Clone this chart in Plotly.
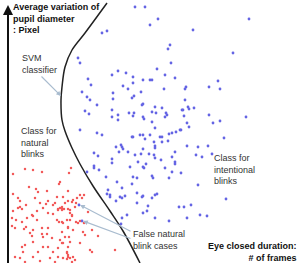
import plotly.graph_objects as go

# Canvas-style coordinates (x to the right, y downward)
blue_x = [135,145,150,102,107,78,80,88,91,118,112,126,133,133,143,150,82,87,90,97,123,113,113,132,134,128,142,85,89,112,112,118,118,129,133,134,143,80,
          158,249,193,170,168,233,171,157,165,152,175,218,164,185,186,209,220,185,155,162,183,188,189,194,152,156,167,165,184,209,246,152,187,220,213,155,189,180,
          141,144,143,182,166,
          97,102,132,133,116,121,122,119,123,128,94,98,112,112,138,94,94,99,87,130,106,133,137,117,122,108,137,110,
          143,150,162,169,172,176,181,145,154,155,162,168,143,155,187,198,208,175,141,154,155,172,196,202,212,161,175,175,146,143,144,165,172,181,152,153,169,198,157,155,152,142,
          224,160,226,179,184,191,200,207,155,187,169,
          107,125,143,122,116,148,147,143,122,121,110,120,137,127,140,149,135,132]
blue_y = [7,7,25,33,31,58,63,79,85,71,75,73,77,83,80,80,92,97,100,105,86,93,99,98,96,89,105,111,114,110,117,115,120,113,116,113,117,130,
          19,19,30,45,49,53,63,69,75,80,78,81,89,89,87,87,89,100,107,108,110,107,109,108,112,113,115,117,116,115,117,122,123,121,123,128,127,130,
          92,119,104,110,113,
          133,135,137,137,147,145,147,152,149,152,153,156,159,163,162,166,168,170,172,167,177,177,178,182,188,190,193,197,
          135,135,137,134,133,132,130,139,142,146,142,141,149,148,146,147,146,152,154,155,158,157,155,157,154,160,162,164,164,167,168,168,172,173,176,178,178,185,194,195,198,197,
          138,137,199,207,207,205,215,216,218,218,221,
          194,196,196,198,201,206,211,213,218,224,195,197,203,215,135,154,155,184]

false_x = [79,82]
false_y = [205,221]

red_x = [13,25,33,42,71,69,60,59,29,36,38,47,68,13,63,68,72,18,20,48,46,55,58,62,70,70,72,76,13,22,12,37,43,33,53,
         20,26,48,58,62,68,32,27,16,22,37,57,59,62,70,12,15,26,24,33,42,48,68,30,32,42,43,47,52,62,69,33,60,63,22,25,43,48,58,68,
         23,38,53,67,15,20,33,50,58,63,68,25,40,55,
         35,57,40,53,60,64,18,
         80,84,82,77,73,65,62,75,88,72,67,76,78,80,84,63,68,73,83,92,85,98,65,62,70,80,90,92,67,68,70,73,75,72,67,115]
red_y = [174,169,170,172,168,173,182,184,187,189,192,191,191,194,197,201,202,198,201,201,204,203,209,209,210,213,216,203,211,209,218,211,208,216,214,
         207,205,213,210,210,209,215,218,220,222,220,220,222,222,220,226,228,227,229,230,228,228,228,233,236,234,237,234,238,232,237,242,240,243,247,245,247,247,248,247,
         252,252,252,253,257,258,257,258,257,258,257,262,261,262,
         198,197,203,205,208,209,208,
         195,195,198,198,200,203,207,207,212,215,220,222,223,221,223,223,227,230,232,230,235,236,237,243,242,243,250,252,252,255,258,257,260,262,259,250]

curve_x = [107,85,72,65,62,61,62,65,72,80,93,110,123,140]
curve_y = [3,33,50,67,87,100,120,131,148,164,186,211,231,263]

BLUE = "#6464e4"
RED = "#f25a5a"
ARROW = "#a9bccf"
TXT = "#333333"

fig = go.Figure()
fig.add_trace(go.Scatter(x=curve_x, y=curve_y, mode="lines", line=dict(color="#222222", width=1.5, shape="spline"),
                         hoverinfo="skip"))
fig.add_trace(go.Scatter(x=blue_x + false_x, y=blue_y + false_y, mode="markers",
                         marker=dict(color=BLUE, size=2.8, line=dict(width=0))))
fig.add_trace(go.Scatter(x=red_x, y=red_y, mode="markers",
                         marker=dict(color=RED, size=2.5, line=dict(width=0))))

ann = []
# Y axis arrow
ann.append(dict(x=8, y=5, ax=8, ay=266, xref="x", yref="y", axref="x", ayref="y", text="",
                showarrow=True, arrowhead=2, arrowsize=1, arrowwidth=2, arrowcolor="#111111"))
# SVM classifier pointer
ann.append(dict(x=61, y=96, ax=40, ay=75, xref="x", yref="y", axref="x", ayref="y", text="",
                showarrow=True, arrowhead=2, arrowsize=0.8, arrowwidth=1.2, arrowcolor=ARROW))
# False natural blink pointers
ann.append(dict(x=false_x[0] + 1, y=false_y[0], ax=132, ay=232, xref="x", yref="y", axref="x", ayref="y", text="",
                showarrow=True, arrowhead=2, arrowsize=0.8, arrowwidth=1.2, arrowcolor=ARROW))
ann.append(dict(x=false_x[1] + 1, y=false_y[1], ax=132, ay=239, xref="x", yref="y", axref="x", ayref="y", text="",
                showarrow=True, arrowhead=2, arrowsize=0.8, arrowwidth=1.2, arrowcolor=ARROW))

def label(x, y, text, bold=False, anchor="left"):
    ann.append(dict(x=x, y=y, xref="x", yref="y", text=text, showarrow=False,
                    xanchor=anchor, yanchor="top", align=anchor,
                    font=dict(family="Arial, Liberation Sans", size=9,
                              color="#111111" if bold else TXT,
                              weight="bold" if bold else "normal")))

label(11, 0, "Average variation of<br>pupil diameter<br>: Pixel", bold=True)
label(20, 51, "SVM<br>classifier")
label(19, 124, "Class for<br>natural<br>blinks")
label(212, 151, "Class for<br>intentional<br>blinks")
label(131, 227, "False natural<br>blink cases")
label(299, 239, "Eye closed duration:<br># of frames", bold=True, anchor="right")

fig.update_layout(
    width=304, height=263, margin=dict(l=0, r=0, t=0, b=0),
    paper_bgcolor="white", plot_bgcolor="white", showlegend=False,
    xaxis=dict(range=[0, 304], visible=False, fixedrange=True),
    yaxis=dict(range=[263, 0], visible=False, fixedrange=True),
    annotations=ann,
)
fig.write_html("out.html")
